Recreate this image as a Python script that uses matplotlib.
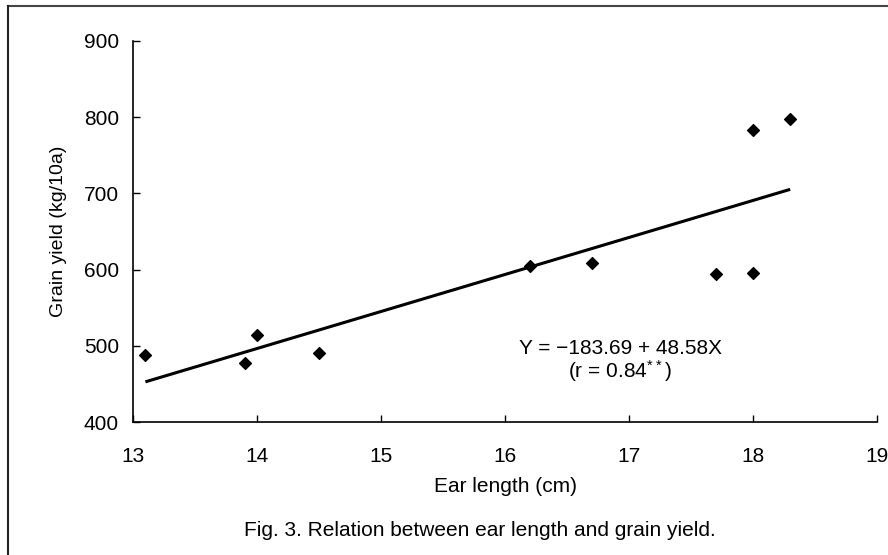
import matplotlib.pyplot as plt
from matplotlib.lines import Line2D

plt.rcParams['font.family'] = ['Liberation Sans', 'DejaVu Sans']
plt.rcParams['mathtext.fontset'] = 'custom'
plt.rcParams['mathtext.rm'] = 'Liberation Sans'
plt.rcParams['mathtext.default'] = 'regular'

# data
ear_length = [13.1, 13.9, 14.0, 14.5, 16.2, 16.7, 17.7, 18.0, 18.0, 18.3]
grain_yield = [488, 477, 514, 491, 605, 609, 594, 596, 783, 798]

# regression from the figure's equation
intercept = -183.69
slope = 48.58
fit_x = [13.1, 18.3]

fig = plt.figure(figsize=(8.88, 5.55), dpi=100)
ax = fig.add_axes([133/888, 1 - 422/555, (877-133)/888, (422-41)/555])

fit_y = [intercept + slope * x for x in fit_x]
ax.plot(fit_x, fit_y, color='black', lw=2.2, solid_capstyle='butt')
ax.scatter(ear_length, grain_yield, marker='D', s=36, color='black', zorder=3)

ax.set_xlim(13, 19)
ax.set_ylim(400, 900)
ax.set_xticks(range(13, 20))
ax.set_yticks(range(400, 901, 100))
ax.spines['top'].set_visible(False)
ax.spines['right'].set_visible(False)
for s in ('left', 'bottom'):
    ax.spines[s].set_linewidth(1.2)
ax.tick_params(direction='in', length=5, width=1, labelsize=15)
ax.tick_params(axis='x', pad=18)
ax.tick_params(axis='y', pad=10)

ax.set_xlabel('Ear length (cm)', fontsize=15, labelpad=8)
ax.set_ylabel('Grain yield (kg/10a)', fontsize=14, labelpad=12)

ax.text(16.93, 497, 'Y = \u2212183.69 + 48.58X', fontsize=15, ha='center', va='center')
ax.text(16.93, 467, '(r = 0.84$^{**}$)', fontsize=15, ha='center', va='center')

fig.text(480/888, 1 - 530/555, 'Fig. 3. Relation between ear length and grain yield.',
         fontsize=15, ha='center', va='center')

# figure frame (top and left edges of the scanned box)
fig.add_artist(Line2D([8/888, 1], [1 - 6/555, 1 - 6/555], transform=fig.transFigure,
                      color='#444444', lw=1.5))
fig.add_artist(Line2D([8/888, 8/888], [0, 1 - 6/555], transform=fig.transFigure,
                      color='#222222', lw=1.5))

fig.savefig('out.png', dpi=100)
